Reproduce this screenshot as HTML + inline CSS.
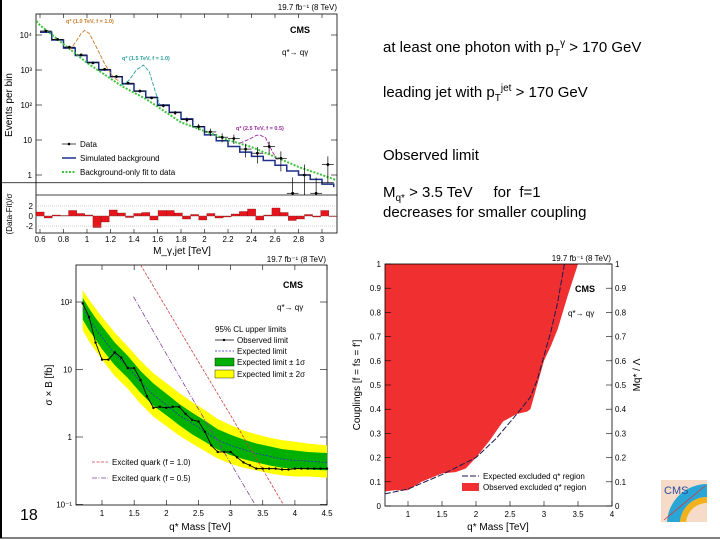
<!DOCTYPE html>
<html><head><meta charset="utf-8"><style>
body{margin:0;background:#fff;}
svg{display:block;font-family:"Liberation Sans",sans-serif;}
.t{font-size:15px;fill:#000;}
.s{font-size:8px;fill:#000;}
.m{font-size:10px;fill:#000;}
</style></head><body>
<svg id="root" width="720" height="540" viewBox="0 0 720 540">
<rect x="0" y="0" width="720" height="540" fill="#fff"/>
<line x1="1" y1="0" x2="1" y2="538" stroke="#000" stroke-width="2"/>
<line x1="0" y1="538" x2="720" y2="538" stroke="#000" stroke-width="1"/>

<g>
<text class="t" x="383" y="52">at least one photon with p<tspan dy="4" font-size="10">T</tspan><tspan dy="-10" font-size="10">γ</tspan><tspan dy="6"> &gt; 170 GeV</tspan></text>
<text class="t" x="383" y="97">leading jet with p<tspan dy="4" font-size="10">T</tspan><tspan dy="-10" font-size="10">jet</tspan><tspan dy="6"> &gt; 170 GeV</tspan></text>
<text class="t" x="383" y="160">Observed limit</text>
<text class="t" x="383" y="197">M<tspan dy="4" font-size="10">q*</tspan><tspan dy="-4"> &gt; 3.5 TeV &#160;&#160;&#160;&#160;for &#160;f=1</tspan></text>
<text class="t" x="383" y="217">decreases for smaller coupling</text>
</g>
<text x="20" y="520" font-size="16">18</text>

<g id="p1"></g>
<g id="p2"></g>
<g id="p3"></g>

<g>
<rect x="661" y="480" width="46" height="42" fill="#f6dcc8"/>
<path d="M707,484 A40,40 0 0 0 667,522 L680,522 A27,27 0 0 1 707,497 Z" fill="#2aa6d6"/>
<path d="M707,497 A27,27 0 0 0 680,522 L686,522 A21,21 0 0 1 707,503 Z" fill="#f2b21c"/>
<text x="664" y="494" font-size="11" fill="#2a4da0">CMS</text>
<line x1="664" y1="520" x2="705" y2="486" stroke="#d33" stroke-width="0.8"/>
</g>
</svg>
<script>
const NS='http://www.w3.org/2000/svg';
function mk(p,tag,a,txt){const e=document.createElementNS(NS,tag);for(const k in a)e.setAttribute(k,a[k]);if(txt!==undefined)e.textContent=txt;p.appendChild(e);return e;}
// ---------- Plot 1 data ----------
const p1BinEdges=[0.6,0.7,0.8,0.9,1.0,1.1,1.2,1.3,1.4,1.5,1.6,1.7,1.8,1.9,2.0,2.1,2.2,2.3,2.4,2.5,2.6,2.7,2.8,2.9,3.0,3.1];
const p1Data=[13000,7500,4500,2700,1600,1050,650,420,250,160,95,60,38,24,17,12,11,5.5,4.2,6.5,3.0,0.3,1.0,0.3,2.0,0.6];
const p1Sim=[12000,7200,4200,2600,1650,1000,640,400,250,165,100,62,40,24,14,9.5,6.5,4.5,3.4,2.6,1.9,1.3,1.0,0.75,0.55,0.45];
const p1FitX=[0.57,0.6,1.0,1.3,1.5,1.8,2.0,2.2,2.4,2.6,2.8,3.0,3.12];
const p1FitY=[25000,19000,1600,340,150,32,18,10,6.3,3.3,1.7,1.0,0.72];
const p1Ratio=[0.8,-0.4,0.2,0.1,1.1,0.5,0.2,-2.3,-1.2,1.2,0.6,-0.3,0.5,0.7,-0.8,1.1,1.1,0.6,-0.6,0.3,-0.8,0.5,-0.4,-0.2,0.4,0.9,1.4,-0.8,0.2,1.6,0.7,-0.9,-0.6,0.3,-0.2,1.1,-0.1];
const sig1X=[0.85,0.9,0.95,0.98,1.02,1.08,1.15,1.22,1.28];
const sig1Y=[3700,6000,11000,13500,11000,4500,1500,650,460];
const sig2X=[1.3,1.36,1.42,1.48,1.53,1.58,1.62];
const sig2Y=[360,520,1000,1380,900,250,100];
const sig3X=[2.3,2.38,2.44,2.47,2.52,2.58,2.62];
const sig3Y=[8.1,10.5,13.5,14,11.5,4.5,2.7];
// axes p1
const X1=m=>87+(m-1)*117.5;
const Y1=v=>175-Math.log10(v)*35;
const R1=r=>216-r*5;
(function(){
 const g=document.getElementById('p1');
 const L=36,R=337,T=14,B=195,RB=233;
 mk(g,'rect',{x:L,y:T,width:R-L,height:RB-T,fill:'#fff',stroke:'#000','stroke-width':0.8});
 mk(g,'line',{x1:L,y1:B,x2:R,y2:B,stroke:'#000','stroke-width':0.8});
 // sim histogram
 let d='';for(let i=0;i<p1Sim.length;i++){const x0=X1(p1BinEdges[i]),x1=X1(p1BinEdges[i+1]),y=Y1(p1Sim[i]);d+=(i?'L':'M')+x0+','+y+'L'+x1+','+y;}
 const h=mk(g,'path',{d:d,fill:'none',stroke:'#1c2f8a','stroke-width':1.5});
 
 // fit
 const f=mk(g,'polyline',{points:p1FitX.map((x,i)=>X1(x)+','+Y1(p1FitY[i])).join(' '),fill:'none',stroke:'#3cc43c','stroke-width':2,'stroke-dasharray':'2,1.5'});
 
 // signals
 [[sig1X,sig1Y,'#c87a2a','signal-1p0'],[sig2X,sig2Y,'#2aa0a0','signal-1p5'],[sig3X,sig3Y,'#9b2a9b','signal-2p5']].forEach(s=>{
  const e=mk(g,'polyline',{points:s[0].map((x,i)=>X1(x)+','+Y1(s[1][i])).join(' '),fill:'none',stroke:s[2],'stroke-width':0.9,'stroke-dasharray':'4,1.5'});
  });
 // data points
 for(let i=0;i<p1Data.length;i++){const xc=X1((p1BinEdges[i]+p1BinEdges[i+1])/2),y=Y1(p1Data[i]);if(y>B)continue;
  const err=Math.sqrt(p1Data[i]);const y1=Y1(p1Data[i]+err),y2=p1Data[i]-err>0?Y1(p1Data[i]-err):B;
  const pt=mk(g,'g',{});
  mk(pt,'line',{x1:xc,y1:y1,x2:xc,y2:Math.min(y2,B),stroke:'#000','stroke-width':0.7});
  mk(pt,'line',{x1:X1(p1BinEdges[i]),y1:y,x2:X1(p1BinEdges[i+1]),y2:y,stroke:'#000','stroke-width':0.7});
  mk(pt,'circle',{cx:xc,cy:y,r:1.4,fill:'#000'});}
 // ratio bars
 const w=(R-L)/p1Ratio.length;
 p1Ratio.forEach((r,i)=>{const b=mk(g,'rect',{x:L+i*w,y:Math.min(R1(r),R1(0)),width:w,height:Math.abs(R1(r)-R1(0)),fill:'#e8141c',stroke:'#600','stroke-width':0.3});
  });
 [2,0,-2].forEach(v=>{mk(g,'line',{x1:L,y1:R1(v),x2:R,y2:R1(v),stroke:'#888','stroke-width':0.4,'stroke-dasharray':'1,1'});mk(g,'text',{class:'s',x:L-3,y:R1(v)+3,'text-anchor':'end','font-size':6},v);});
 // ticks
 [0.6,0.8,1,1.2,1.4,1.6,1.8,2,2.2,2.4,2.6,2.8,3].forEach(m=>{const x=X1(m);mk(g,'line',{x1:x,y1:RB,x2:x,y2:RB-4,stroke:'#000','stroke-width':0.6});mk(g,'line',{x1:x,y1:T,x2:x,y2:T+4,stroke:'#000','stroke-width':0.6});mk(g,'text',{class:'s',x:x,y:242,'text-anchor':'middle'},String(m));});
 [[10000,'10⁴'],[1000,'10³'],[100,'10²'],[10,'10'],[1,'1']].forEach(a=>{const y=Y1(a[0]);mk(g,'line',{x1:L,y1:y,x2:L+6,y2:y,stroke:'#000','stroke-width':0.6});mk(g,'line',{x1:R,y1:y,x2:R-6,y2:y,stroke:'#000','stroke-width':0.6});mk(g,'text',{class:'s',x:L-4,y:y+3,'text-anchor':'end'},a[1]);});
 mk(g,'text',{class:'m',x:12,y:105,transform:'rotate(-90 12 105)','text-anchor':'middle'},'Events per bin');
 mk(g,'text',{class:'s',x:12,y:214,transform:'rotate(-90 12 214)','text-anchor':'middle','font-size':6},'(Data-Fit)/σ');
 mk(g,'text',{class:'m',x:182,y:254,'text-anchor':'middle'},'M_γ,jet [TeV]');
 mk(g,'text',{class:'s',x:337,y:10,'text-anchor':'end'},'19.7 fb⁻¹ (8 TeV)');
 mk(g,'text',{x:290,y:33,'font-size':9,'font-weight':'bold'},'CMS');
 mk(g,'text',{class:'s',x:282,y:55},'q*→ qγ');
 mk(g,'text',{x:66,y:23,'font-size':5.5,fill:'#c87a2a','font-weight':'bold'},'q* (1.0 TeV, f = 1.0)');
 mk(g,'text',{x:122,y:60,'font-size':5.5,fill:'#2aa0a0','font-weight':'bold'},'q* (1.5 TeV, f = 1.0)');
 mk(g,'text',{x:236,y:130,'font-size':5.5,fill:'#9b2a9b','font-weight':'bold'},'q* (2.5 TeV, f = 0.5)');
 mk(g,'line',{x1:62,y1:144,x2:76,y2:144,stroke:'#000','stroke-width':0.7});mk(g,'circle',{cx:69,cy:144,r:1.3});
 mk(g,'text',{class:'s',x:80,y:147},'Data');
 mk(g,'line',{x1:62,y1:158,x2:76,y2:158,stroke:'#1c2f8a','stroke-width':1.5});
 mk(g,'text',{class:'s',x:80,y:161},'Simulated background');
 mk(g,'line',{x1:62,y1:172,x2:76,y2:172,stroke:'#3cc43c','stroke-width':2,'stroke-dasharray':'2,1.5'});
 mk(g,'text',{class:'s',x:80,y:175},'Background-only fit to data');
})();

// ---------- Plot 2 data ----------
const obsMass=[0.7,0.8,0.9,1.0,1.1,1.2,1.3,1.4,1.5,1.6,1.7,1.8,1.9,2.0,2.1,2.2,2.3,2.4,2.5,2.6,2.7,2.8,2.9,3.0,3.1,3.2,3.3,3.4,3.5,3.6,3.7,3.8,3.9,4.0,4.1,4.2,4.3,4.4,4.5];
const obsLimit=[95,60,25,14,14,18,15,10.5,10.5,7,4,2.7,2.8,2.7,2.8,2.8,2.2,1.8,1.7,1.2,0.75,0.6,0.6,0.6,0.5,0.42,0.38,0.34,0.34,0.34,0.34,0.33,0.33,0.34,0.34,0.34,0.34,0.34,0.34];
const expMass=[0.7,0.8,0.9,1.0,1.2,1.4,1.6,1.8,2.0,2.2,2.4,2.6,2.8,3.0,3.2,3.4,3.6,3.8,4.0,4.2,4.5];
const expLimit=[80,55,40,30,17,11,6.5,4.2,3.0,2.1,1.6,1.2,0.9,0.75,0.65,0.57,0.52,0.47,0.45,0.44,0.42];
const band1Lo=[55,38,28,20,11.5,7.5,4.5,2.9,2.1,1.5,1.1,0.85,0.65,0.54,0.47,0.42,0.38,0.35,0.34,0.33,0.32];
const band1Hi=[115,80,58,44,25,16,9.5,6.2,4.4,3.1,2.3,1.75,1.3,1.08,0.92,0.8,0.73,0.66,0.63,0.6,0.58];
const band2Lo=[38,26,19,14,8,5.2,3.1,2,1.45,1.05,0.8,0.62,0.48,0.4,0.35,0.32,0.29,0.27,0.26,0.26,0.25];
const band2Hi=[150,108,80,60,35,22,13.5,8.8,6.3,4.5,3.3,2.5,1.85,1.5,1.25,1.1,0.98,0.9,0.85,0.8,0.75];
const thMass1=[1.6,2.0,2.5,3.0,3.5,3.82];
const thXs1=[355,82,13,2.1,0.33,0.1];
const thMass05=[1.49,2.0,2.5,3.0,3.38];
const thXs05=[120,17,2.6,0.41,0.1];
const X2=m=>102+(m-1)*64.3;
const Y2=v=>437-Math.log10(v)*67.5;
(function(){
 const g=document.getElementById('p2');
 const L=76,R=327,T=265,B=505;
 mk(g,'rect',{x:L,y:T,width:R-L,height:B-T,fill:'#fff',stroke:'#000','stroke-width':0.8});
 const band=(lo,hi,col,name)=>{const pts=expMass.map((m,i)=>X2(m)+','+Y2(hi[i])).concat(expMass.slice().reverse().map((m,j)=>X2(m)+','+Y2(lo[expMass.length-1-j])));
  const e=mk(g,'polygon',{points:pts.join(' '),fill:col});};
 band(band2Lo,band2Hi,'#ffff00','band-2sigma');band(band1Lo,band1Hi,'#00b000','band-1sigma');
 const ex=mk(g,'polyline',{points:expMass.map((m,i)=>X2(m)+','+Y2(expLimit[i])).join(' '),fill:'none',stroke:'#3030c0','stroke-width':0.8,'stroke-dasharray':'2,1.5'});
 
 const cl=mk(g,'clipPath',{id:'c2'});mk(cl,'rect',{x:L,y:T,width:R-L,height:B-T});
 const t1=mk(g,'polyline',{points:thMass1.map((m,i)=>X2(m)+','+Y2(thXs1[i])).join(' '),fill:'none',stroke:'#d04040','stroke-width':0.8,'stroke-dasharray':'3,1.5','clip-path':'url(#c2)'});
 
 const t2=mk(g,'polyline',{points:thMass05.map((m,i)=>X2(m)+','+Y2(thXs05[i])).join(' '),fill:'none',stroke:'#8040a0','stroke-width':0.8,'stroke-dasharray':'5,1.5,1,1.5','clip-path':'url(#c2)'});
 
 const ob=mk(g,'polyline',{points:obsMass.map((m,i)=>X2(m)+','+Y2(obsLimit[i])).join(' '),fill:'none',stroke:'#000','stroke-width':0.9});
 
 obsMass.forEach((m,i)=>{const c=mk(g,'circle',{cx:X2(m),cy:Y2(obsLimit[i]),r:1.2,fill:'#000'});});
 [1,1.5,2,2.5,3,3.5,4,4.5].forEach(m=>{const x=X2(m);mk(g,'line',{x1:x,y1:B,x2:x,y2:B-5,stroke:'#000','stroke-width':0.6});mk(g,'line',{x1:x,y1:T,x2:x,y2:T+5,stroke:'#000','stroke-width':0.6});mk(g,'text',{class:'s',x:x,y:516,'text-anchor':'middle'},String(m));});
 [[100,'10²'],[10,'10'],[1,'1'],[0.1,'10⁻¹']].forEach(a=>{const y=Y2(a[0]);mk(g,'line',{x1:L,y1:y,x2:L+7,y2:y,stroke:'#000','stroke-width':0.6});mk(g,'line',{x1:R,y1:y,x2:R-7,y2:y,stroke:'#000','stroke-width':0.6});mk(g,'text',{class:'s',x:L-4,y:y+3,'text-anchor':'end'},a[1]);});
 mk(g,'text',{class:'m',x:52,y:385,transform:'rotate(-90 52 385)','text-anchor':'middle'},'σ × B [fb]');
 mk(g,'text',{class:'m',x:200,y:530,'text-anchor':'middle'},'q* Mass [TeV]');
 mk(g,'text',{class:'s',x:326,y:262,'text-anchor':'end'},'19.7 fb⁻¹ (8 TeV)');
 mk(g,'text',{x:283,y:288,'font-size':9,'font-weight':'bold'},'CMS');
 mk(g,'text',{class:'s',x:277,y:310},'q*→ qγ');
 mk(g,'text',{class:'s',x:215,y:332,'font-size':7},'95% CL upper limits');
 mk(g,'line',{x1:215,y1:340,x2:234,y2:340,stroke:'#000','stroke-width':0.8});mk(g,'circle',{cx:224,cy:340,r:1.2});
 mk(g,'text',{class:'s',x:237,y:343,'font-size':7},'Observed limit');
 mk(g,'line',{x1:215,y1:351,x2:234,y2:351,stroke:'#3030c0','stroke-width':0.8,'stroke-dasharray':'2,1.5'});
 mk(g,'text',{class:'s',x:237,y:354,'font-size':7},'Expected limit');
 mk(g,'rect',{x:215,y:358,width:19,height:8,fill:'#00b000',stroke:'#000','stroke-width':0.4});
 mk(g,'text',{class:'s',x:237,y:365,'font-size':7},'Expected limit ± 1σ');
 mk(g,'rect',{x:215,y:370,width:19,height:8,fill:'#ffff00',stroke:'#000','stroke-width':0.4});
 mk(g,'text',{class:'s',x:237,y:377,'font-size':7},'Expected limit ± 2σ');
 mk(g,'line',{x1:92,y1:462,x2:108,y2:462,stroke:'#d04040','stroke-width':0.8,'stroke-dasharray':'3,1.5'});
 mk(g,'text',{class:'s',x:112,y:465,'font-size':7},'Excited quark (f = 1.0)');
 mk(g,'line',{x1:92,y1:478,x2:108,y2:478,stroke:'#8040a0','stroke-width':0.8,'stroke-dasharray':'5,1.5,1,1.5'});
 mk(g,'text',{class:'s',x:112,y:481,'font-size':7},'Excited quark (f = 0.5)');
})();

// ---------- Plot 3 data ----------
const obsBoundMass=[0.66,0.8,1.0,1.2,1.5,1.7,1.85,2.0,2.2,2.4,2.6,2.75,2.8,2.9,3.0,3.1,3.2,3.35,3.5];
const obsBoundF=[0.06,0.065,0.065,0.1,0.135,0.14,0.155,0.2,0.27,0.35,0.38,0.39,0.4,0.5,0.6,0.66,0.73,0.87,1.0];
const expBoundMass=[0.66,1.0,1.5,2.0,2.3,2.6,2.8,2.9,3.0,3.1,3.2,3.3];
const expBoundF=[0.05,0.07,0.13,0.2,0.28,0.38,0.45,0.52,0.62,0.72,0.84,1.0];
const X3=m=>408+(m-1)*68;
const Y3=f=>506-f*242;
(function(){
 const g=document.getElementById('p3');
 const L=385,R=612,T=264,B=506;
 mk(g,'rect',{x:L,y:T,width:R-L,height:B-T,fill:'#fff'});
 const pts=[L+','+T,L+','+Y3(obsBoundF[0])].concat(obsBoundMass.map((m,i)=>X3(m)+','+Y3(obsBoundF[i])));
 const ob=mk(g,'polygon',{points:pts.join(' '),fill:'#f03030'});
 
 const ex=mk(g,'polyline',{points:expBoundMass.map((m,i)=>X3(m)+','+Y3(expBoundF[i])).join(' '),fill:'none',stroke:'#1a1a50','stroke-width':1,'stroke-dasharray':'6,2'});
 
 mk(g,'rect',{x:L,y:T,width:R-L,height:B-T,fill:'none',stroke:'#000','stroke-width':0.8});
 [1,1.5,2,2.5,3,3.5,4].forEach(m=>{const x=X3(m);mk(g,'line',{x1:x,y1:B,x2:x,y2:B-5,stroke:'#000','stroke-width':0.6});mk(g,'text',{class:'s',x:x,y:517,'text-anchor':'middle'},String(m));});
 [0,0.1,0.2,0.3,0.4,0.5,0.6,0.7,0.8,0.9,1].forEach(f=>{const y=Y3(f);mk(g,'line',{x1:L,y1:y,x2:L+6,y2:y,stroke:'#000','stroke-width':0.6});mk(g,'line',{x1:R,y1:y,x2:R-6,y2:y,stroke:'#000','stroke-width':0.6});
  mk(g,'text',{class:'s',x:L-4,y:y+3,'text-anchor':'end'},String(f));mk(g,'text',{class:'s',x:R+3,y:y+3},String(f));});
 mk(g,'text',{class:'m',x:360,y:385,transform:'rotate(-90 360 385)','text-anchor':'middle'},'Couplings [f = fs = f′]');
 mk(g,'text',{class:'m',x:640,y:375,transform:'rotate(-90 640 375)','text-anchor':'middle'},'Mq* / Λ');
 mk(g,'text',{class:'m',x:498,y:530,'text-anchor':'middle'},'q* Mass [TeV]');
 mk(g,'text',{class:'s',x:611,y:261,'text-anchor':'end'},'19.7 fb⁻¹ (8 TeV)');
 mk(g,'text',{x:575,y:292,'font-size':9,'font-weight':'bold'},'CMS');
 mk(g,'text',{class:'s',x:568,y:316},'q*→ qγ');
 mk(g,'line',{x1:462,y1:476,x2:479,y2:476,stroke:'#1a1a50','stroke-width':1,'stroke-dasharray':'6,2'});
 mk(g,'text',{class:'s',x:483,y:479,'font-size':7},'Expected excluded q* region');
 mk(g,'rect',{x:462,y:483,width:17,height:8,fill:'#f03030'});
 mk(g,'text',{class:'s',x:483,y:490,'font-size':7},'Observed excluded q* region');
})();
</script>
</body></html>
